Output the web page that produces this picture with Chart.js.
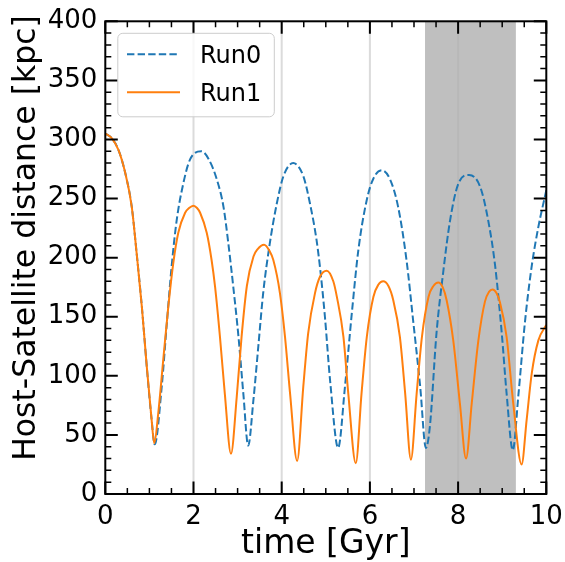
<!DOCTYPE html>
<html>
<head>
<meta charset="utf-8">
<script src="https://cdn.jsdelivr.net/npm/chart.js@4.4.1/dist/chart.umd.min.js"></script>
<style>
  html, body { margin: 0; padding: 0; background: #fff; }
  #wrap { width: 565px; height: 562px; }
</style>
</head>
<body>
<div id="wrap"><canvas id="orbit" width="565" height="562"></canvas></div>
<script>
// time [Gyr] and host-satellite distance [kpc]
const run0Time = [0, 0.15, 0.3, 0.45, 0.6, 0.71, 0.83, 0.94, 1.05, 1.12, 1.28, 1.39, 1.505, 1.62, 1.77, 1.92, 2.18, 2.35, 2.53, 2.68, 2.79, 2.9, 3.02, 3.13, 3.24, 3.36, 3.47, 3.58, 3.73, 3.89, 4.04, 4.26, 4.49, 4.64, 4.79, 4.88, 4.98, 5.1, 5.28, 5.435, 5.59, 5.74, 5.93, 6.08, 6.27, 6.46, 6.64, 6.83, 6.98, 7.14, 7.27, 7.36, 7.51, 7.66, 7.82, 8.0, 8.25, 8.5, 8.68, 8.84, 8.99, 9.1, 9.24, 9.37, 9.52, 9.67, 9.82, 10];
const run0Dist = [305, 301, 291, 272, 243, 204, 158, 108, 63, 42, 91, 142, 193, 232, 263, 283, 290, 283, 266, 243, 212, 176, 133, 85, 41, 80, 125, 170, 212, 246, 269, 280, 269, 246, 215, 188, 150, 95, 39, 91, 153, 207, 249, 267, 274, 266, 243, 198, 147, 91, 39, 57, 136, 187, 232, 262, 270, 260, 232, 193, 136, 85, 37, 85, 147, 193, 226, 257];

const run1Time = [0, 0.15, 0.3, 0.45, 0.6, 0.71, 0.83, 0.94, 1.05, 1.11, 1.2, 1.315, 1.43, 1.54, 1.655, 1.81, 1.9, 2.0, 2.08, 2.15, 2.3, 2.41, 2.49, 2.6, 2.71, 2.85, 2.98, 3.09, 3.21, 3.36, 3.45, 3.6, 3.72, 3.81, 3.96, 4.075, 4.19, 4.35, 4.49, 4.6, 4.755, 4.87, 5.02, 5.17, 5.25, 5.4, 5.51, 5.68, 5.81, 5.93, 6.08, 6.19, 6.3, 6.42, 6.53, 6.68, 6.8, 6.93, 7.06, 7.18, 7.33, 7.44, 7.55, 7.65, 7.74, 7.89, 8.04, 8.18, 8.31, 8.46, 8.61, 8.7, 8.78, 8.87, 8.95, 9.1, 9.25, 9.44, 9.555, 9.67, 9.82, 10];
const run1Dist = [305, 301, 291, 272, 243, 204, 158, 108, 63, 43, 68, 114, 159, 195, 221, 238, 242, 244, 242, 238, 221, 198, 175, 133, 85, 34, 82, 133, 176, 201, 207, 211, 206, 198, 170, 133, 85, 28, 91, 136, 170, 184, 189, 180, 167, 133, 85, 26, 85, 133, 167, 177, 180, 176, 164, 133, 85, 29, 85, 133, 167, 176, 179, 175, 164, 130, 77, 30, 77, 130, 163, 171, 173, 170, 162, 133, 77, 25, 63, 102, 130, 143];

const xTicks = [0, 2, 4, 6, 8, 10];
const yTicks = [0, 50, 100, 150, 200, 250, 300, 350, 400];
const gridTimes = [2, 4, 6, 8];
const shadeSpan = [7.25, 9.31];

const BLUE = "#1f77b4";
const ORANGE = "#ff7f0e";
const FONT = "DejaVu Sans";

Chart.defaults.font.family = FONT;
Chart.defaults.color = "#000";

// shading, grid, frame, inward ticks, legend and axis titles
const framePlugin = {
  id: "frame",
  beforeDatasetsDraw(chart) {
    const { ctx, chartArea: a, scales: { x } } = chart;
    ctx.save();
    ctx.fillStyle = "#bfbfbf";
    const s0 = x.getPixelForValue(shadeSpan[0]);
    const s1 = x.getPixelForValue(shadeSpan[1]);
    ctx.fillRect(s0, a.top, s1 - s0, a.bottom - a.top);
    ctx.strokeStyle = "rgba(176,176,176,0.45)";
    ctx.lineWidth = 2;
    gridTimes.forEach((t) => {
      const px = x.getPixelForValue(t);
      ctx.beginPath();
      ctx.moveTo(px, a.top);
      ctx.lineTo(px, a.bottom);
      ctx.stroke();
    });
    ctx.restore();
  },
  afterDatasetsDraw(chart) {
    const { ctx, chartArea: a, scales: { x, y } } = chart;
    ctx.save();
    ctx.strokeStyle = "#000";

    // x ticks, major every 2, minor every 0.5
    for (let i = 0; i <= 20; i++) {
      const v = i * 0.5;
      const major = i % 4 === 0;
      const len = major ? 12.5 : 6;
      ctx.lineWidth = major ? 2 : 1.5;
      const px = x.getPixelForValue(v);
      ctx.beginPath();
      ctx.moveTo(px, a.bottom);
      ctx.lineTo(px, a.bottom - len);
      ctx.moveTo(px, a.top);
      ctx.lineTo(px, a.top + len);
      ctx.stroke();
    }
    // y ticks, major every 50, minor every 10
    for (let i = 0; i <= 40; i++) {
      const v = i * 10;
      const major = i % 5 === 0;
      const len = major ? 12.5 : 6;
      ctx.lineWidth = major ? 2 : 1.5;
      const py = y.getPixelForValue(v);
      ctx.beginPath();
      ctx.moveTo(a.left, py);
      ctx.lineTo(a.left + len, py);
      ctx.moveTo(a.right, py);
      ctx.lineTo(a.right - len, py);
      ctx.stroke();
    }
    ctx.lineWidth = 2;
    ctx.strokeRect(a.left, a.top, a.right - a.left, a.bottom - a.top);

    // legend
    const lx = a.left + 12.5, ly = a.top + 12, lw = 156.5, lh = 83.5;
    ctx.beginPath();
    ctx.roundRect(lx, ly, lw, lh, 5);
    ctx.fillStyle = "rgba(255,255,255,0.8)";
    ctx.fill();
    ctx.strokeStyle = "#cccccc";
    ctx.lineWidth = 1;
    ctx.stroke();

    const items = [
      { label: "Run0", color: BLUE, dash: [7.4, 3.2], y: 54.3 },
      { label: "Run1", color: ORANGE, dash: [], y: 92.3 },
    ];
    ctx.font = "24px '" + FONT + "'";
    ctx.textBaseline = "alphabetic";
    ctx.textAlign = "left";
    items.forEach((it) => {
      ctx.strokeStyle = it.color;
      ctx.lineWidth = 2;
      ctx.setLineDash(it.dash);
      ctx.beginPath();
      ctx.moveTo(127, it.y);
      ctx.lineTo(180, it.y);
      ctx.stroke();
      ctx.setLineDash([]);
      ctx.fillStyle = "#000";
      ctx.fillText(it.label, 200, it.y + 9);
    });

    // axis titles
    ctx.fillStyle = "#000";
    ctx.textAlign = "center";
    ctx.font = "33px '" + FONT + "'";
    ctx.fillText("time [Gyr]", (a.left + a.right) / 2, 553);
    ctx.font = "31.5px '" + FONT + "'";
    ctx.translate(35, 238);
    ctx.rotate(-Math.PI / 2);
    ctx.fillText("Host-Satellite distance [kpc]", 0, 0);
    ctx.restore();
  },
};

const toPoints = (ts, ds) => ts.map((t, i) => ({ x: t, y: ds[i] }));

new Chart(document.getElementById("orbit"), {
  type: "line",
  data: {
    datasets: [
      {
        label: "Run0",
        data: toPoints(run0Time, run0Dist),
        borderColor: BLUE,
        borderWidth: 2,
        borderDash: [7.4, 3.2],
        pointRadius: 0,
        cubicInterpolationMode: "monotone",
        order: 1,
      },
      {
        label: "Run1",
        data: toPoints(run1Time, run1Dist),
        borderColor: ORANGE,
        borderWidth: 2,
        pointRadius: 0,
        cubicInterpolationMode: "monotone",
        order: 0,
      },
    ],
  },
  options: {
    responsive: false,
    animation: false,
    layout: { padding: { top: 21.3, right: 18.7, left: 0, bottom: 0 } },
    plugins: { legend: { display: false }, tooltip: { enabled: false } },
    scales: {
      x: {
        type: "linear",
        min: 0,
        max: 10,
        afterFit: (s) => {
          s.height = 68;
          s.paddingLeft = 0;
          s.paddingRight = 0;
        },
        afterBuildTicks: (s) => { s.ticks = xTicks.map((v) => ({ value: v })); },
        grid: { display: false, drawTicks: false },
        border: { display: false },
        ticks: { autoSkip: false, maxRotation: 0, padding: 8, color: "#000", font: { size: 26 } },
      },
      y: {
        type: "linear",
        min: 0,
        max: 400,
        afterFit: (s) => {
          s.width = 105.3;
          s.paddingTop = 0;
          s.paddingBottom = 0;
        },
        afterBuildTicks: (s) => { s.ticks = yTicks.map((v) => ({ value: v })); },
        grid: { display: false, drawTicks: false },
        border: { display: false },
        ticks: { autoSkip: false, padding: 8, color: "#000", font: { size: 26 } },
      },
    },
  },
  plugins: [framePlugin],
});
</script>
</body>
</html>
